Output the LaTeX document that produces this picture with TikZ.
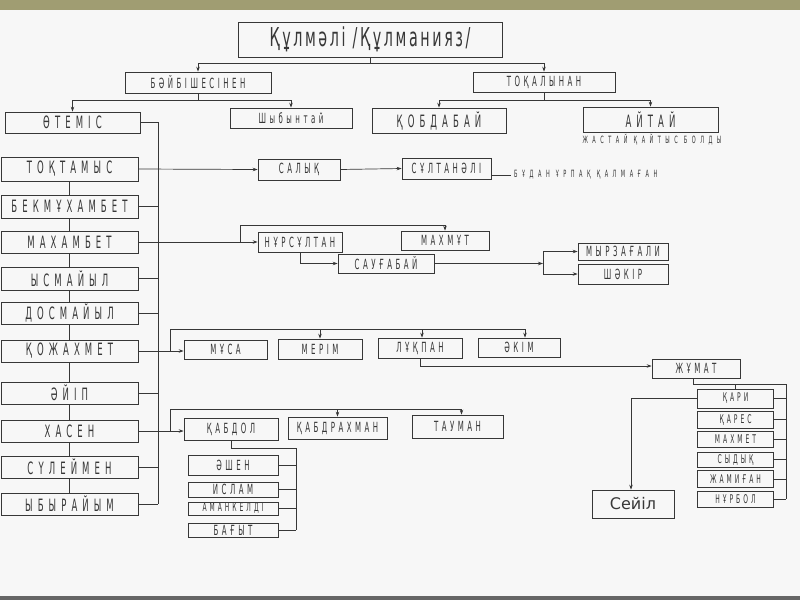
\documentclass[tikz,border=0pt]{standalone}
\usepackage{fontspec}
\setmainfont{DejaVu Sans}
\newfontfamily\lf[FakeStretch=0.5,LetterSpace=30]{DejaVu Sans}
\newfontfamily\smfont[FakeStretch=0.5,LetterSpace=25]{DejaVu Sans}
\newfontfamily\tf[FakeStretch=0.55,LetterSpace=10]{DejaVu Sans}
\newfontfamily\nf[FakeStretch=0.5,LetterSpace=45]{DejaVu Sans}
\usetikzlibrary{arrows.meta}
\definecolor{olivebar}{RGB}{160,157,114}
\definecolor{ink}{RGB}{55,55,55}
\begin{document}
\begin{tikzpicture}[x=1pt,y=-1pt,
  ln/.style={line width=0.7pt,draw=ink},
  arr/.style={ln,-{Stealth[length=5pt,width=3.5pt]}},
  bx/.style={ln,rectangle,inner sep=0pt,text=ink},
  nm/.style={bx,font=\lf\fontsize{17}{17}\selectfont},
  sm/.style={bx,font=\smfont\fontsize{14}{14}\selectfont},
  xs/.style={bx,font=\smfont\fontsize{12}{12}\selectfont},
  note/.style={inner sep=0pt,text=ink,font=\nf\fontsize{10}{10}\selectfont}
  ]
\useasboundingbox (0,0) rectangle (800,600);
\fill[white!97!black] (0,0) rectangle (800,600);
\fill[olivebar] (0,0) rectangle (800,10);
\fill[black!60] (0,596) rectangle (800,600);

% top levels
\node[bx,minimum width=264pt,minimum height=35pt,font=\tf\fontsize{26}{26}\selectfont] (top) at (370,39.5) {Құлмәлі /Құлманияз/};
\node[sm,minimum width=146pt,minimum height=21pt] (bb) at (198,82.5) {БӘЙБІШЕСІНЕН};
\node[sm,minimum width=142pt,minimum height=20pt] (tq) at (544,82) {ТОҚАЛЫНАН};
\node[nm,minimum width=135pt,minimum height=21pt] (otm) at (72.5,122.5) {ӨТЕМІС};
\node[sm,minimum width=122pt,minimum height=20pt] (shb) at (291,118) {Шыбынтай};
\node[nm,minimum width=134pt,minimum height=25pt] (qob) at (439,120.5) {ҚОБДАБАЙ};
\node[nm,minimum width=135pt,minimum height=25pt] (ait) at (650.5,119.5) {АЙТАЙ};
\node[note] (aitn) at (652,139.5) {ЖАСТАЙ ҚАЙТЫС БОЛДЫ};

% left column
\node[nm,minimum width=137pt,minimum height=24pt] (tok) at (69.5,169) {ТОҚТАМЫС};
\node[nm,minimum width=137pt,minimum height=23pt] (bek) at (69.5,206.5) {БЕКМҰХАМБЕТ};
\node[nm,minimum width=137pt,minimum height=22pt] (mah) at (69.5,242) {МАХАМБЕТ};
\node[nm,minimum width=137pt,minimum height=23pt] (ism) at (69.5,278.5) {ЫСМАЙЫЛ};
\node[nm,minimum width=137pt,minimum height=22pt] (dos) at (69.5,313) {ДОСМАЙЫЛ};
\node[nm,minimum width=137pt,minimum height=22pt] (koj) at (69.5,351) {ҚОЖАХМЕТ};
\node[nm,minimum width=137pt,minimum height=22pt] (aii) at (69.5,393) {ӘЙІП};
\node[nm,minimum width=137pt,minimum height=22pt] (has) at (69.5,431) {ХАСЕН};
\node[nm,minimum width=137pt,minimum height=22pt] (sul) at (69.5,467) {СҮЛЕЙМЕН};
\node[nm,minimum width=137pt,minimum height=22pt] (yby) at (69.5,504) {ЫБЫРАЙЫМ};

% Toqtamys line
\node[sm,minimum width=82pt,minimum height=21pt] (sal) at (299,169.5) {САЛЫҚ};
\node[sm,minimum width=89pt,minimum height=21pt] (slt) at (446.5,168.5) {СҰЛТАНӘЛІ};
\node[note,anchor=west] (bud) at (514,175) {БҰДАН ҰРПАҚ ҚАЛМАҒАН};

% Makhambet line
\node[sm,minimum width=84pt,minimum height=20pt] (nur) at (300,242) {НҰРСҰЛТАН};
\node[sm,minimum width=88pt,minimum height=19pt] (mxt) at (445,240.5) {МАХМҰТ};
\node[sm,minimum width=96pt,minimum height=19pt] (sau) at (386,263.5) {САУҒАБАЙ};
\node[sm,minimum width=90pt,minimum height=17pt] (myr) at (623,251.5) {МЫРЗАҒАЛИ};
\node[sm,minimum width=90pt,minimum height=20pt] (sha) at (623,274) {ШӘКІР};

% Qozhakhmet line
\node[sm,minimum width=83pt,minimum height=19pt] (mus) at (225.5,349.5) {МҰСА};
\node[sm,minimum width=84pt,minimum height=20pt] (mer) at (320,349) {МЕРІМ};
\node[sm,minimum width=84pt,minimum height=20pt] (luq) at (420,348) {ЛҰҚПАН};
\node[sm,minimum width=82pt,minimum height=19pt] (akim) at (519,347.5) {ӘКІМ};
\node[sm,minimum width=88pt,minimum height=19pt] (zhu) at (696,368.5) {ЖҰМАТ};
\node[xs,minimum width=76pt,minimum height=19pt] (qar) at (735.5,398.5) {ҚАРИ};
\node[xs,minimum width=76pt,minimum height=17pt] (qrs) at (735.5,419.5) {ҚАРЕС};
\node[xs,minimum width=76pt,minimum height=16pt] (mhm) at (735.5,439.5) {МАХМЕТ};
\node[xs,minimum width=76pt,minimum height=15pt] (syd) at (735.5,459.5) {СЫДЫҚ};
\node[xs,minimum width=76pt,minimum height=17pt] (zha) at (735.5,479) {ЖАМИҒАН};
\node[xs,minimum width=76pt,minimum height=16pt] (nrb) at (735.5,499) {НҰРБОЛ};
\node[bx,minimum width=82pt,minimum height=28pt,font=\fontsize{16}{16}\selectfont] (sei) at (633,504) {Сейіл};

% Khasen line
\node[sm,minimum width=94pt,minimum height=22pt] (kab) at (231,429) {ҚАБДОЛ};
\node[sm,minimum width=99pt,minimum height=22pt] (qbr) at (337.5,428) {ҚАБДРАХМАН};
\node[sm,minimum width=91pt,minimum height=23pt] (tau) at (457.5,426.5) {ТАУМАН};
\node[sm,minimum width=90pt,minimum height=20pt] (ash) at (233,465) {ӘШЕН};
\node[sm,minimum width=90pt,minimum height=15pt] (isl) at (233,489.5) {ИСЛАМ};
\node[xs,minimum width=90pt,minimum height=13pt] (ama) at (233,508.5) {АМАНКЕЛДІ};
\node[sm,minimum width=90pt,minimum height=14pt] (bag) at (233,530) {БАҒЫТ};

% connectors: top levels
\draw[ln] (top.south) -- ++(0,6) coordinate (j0);
\draw[arr] (j0) -| (bb.north);
\draw[arr] (j0) -| (tq.north);
\draw[ln] (bb.south) -- ++(0,7) coordinate (j1);
\draw[arr] (j1) -| (otm.north);
\draw[arr] (j1) -| (shb.north);
\draw[ln] (tq.south) -- ++(0,8) coordinate (j2);
\draw[arr] (j2) -| (qob.north);
\draw[arr] (j2) -| (ait.north);

% Otemis bracket
\coordinate (br) at (158,0);
\draw[ln] (otm.east) -- (otm.east -| br) -- (yby.east -| br);
\foreach \n in {bek,ism,dos,aii,sul,yby} \draw[ln] (\n.east) -- (\n.east -| br);
\draw[ln] (tok.south) -- (bek.north);
\draw[ln] (bek.south) -- (mah.north);
\draw[ln] (mah.south) -- (ism.north);
\draw[ln] (ism.south) -- (dos.north);
\draw[ln] (dos.south) -- (koj.north);
\draw[ln] (koj.south) -- (aii.north);
\draw[ln] (aii.south) -- (has.north);
\draw[ln] (has.south) -- (sul.north);
\draw[ln] (sul.south) -- (yby.north);

% Toqtamys
\draw[arr] (tok.east) -- (sal.west);
\draw[arr] (sal.east) -- (slt.west);
\draw[ln] (slt.east |- bud.west) -- ++(20,0);

% Makhambet
\coordinate (f1) at (240,225);
\draw[arr] (mah.east) -- (nur.west);
\draw[arr] (mah.east -| f1) -- (f1) -| (mxt.north);
\draw[arr] (nur.south) |- (sau.west);
\coordinate (f2) at (543,0);
\draw[arr] (sau.east) -- (sau.east -| f2);
\draw[ln] (myr.west -| f2) -- (sha.west -| f2);
\draw[arr] (myr.west -| f2) -- (myr.west);
\draw[arr] (sha.west -| f2) -- (sha.west);

% Qozhakhmet
\coordinate (f3) at (170,329);
\draw[arr] (koj.east) -- (koj.east -| mus.west);
\draw[arr] (koj.east -| f3) -- (f3) -| ([xshift=6pt]akim.north);
\draw[arr] (mer.north |- f3) -- (mer.north);
\draw[arr] ([xshift=2pt]luq.north |- f3) -- ([xshift=2pt]luq.north);
\draw[arr] (luq.south) |- ([yshift=2.5pt]zhu.west);

% Zhumat
\coordinate (f4) at (786,384);
\draw[ln] ([xshift=-3pt]zhu.south) -- ([xshift=-3pt]zhu.south |- f4) -- (f4) -- (nrb.east -| f4);
\draw[ln] (qar.north |- f4) -- (qar.north);
\foreach \n in {qar,qrs,mhm,syd,zha,nrb} \draw[ln] (\n.east) -- (\n.east -| f4);
\draw[arr] (qar.west) -| ([xshift=-2pt]sei.north);

% Khasen
\coordinate (f5) at (170,409);
\draw[arr] (has.east) -- (has.east -| kab.west);
\draw[arr] (has.east -| f5) -- (f5) -| ([xshift=4pt]tau.north);
\draw[arr] (qbr.north |- f5) -- (qbr.north);
\coordinate (f6) at (296,448);
\draw[ln] (kab.south) |- (f6) -- (bag.east -| f6);
\foreach \n in {ash,isl,ama,bag} \draw[ln] (\n.east) -- (\n.east -| f6);
\end{tikzpicture}
\end{document}
